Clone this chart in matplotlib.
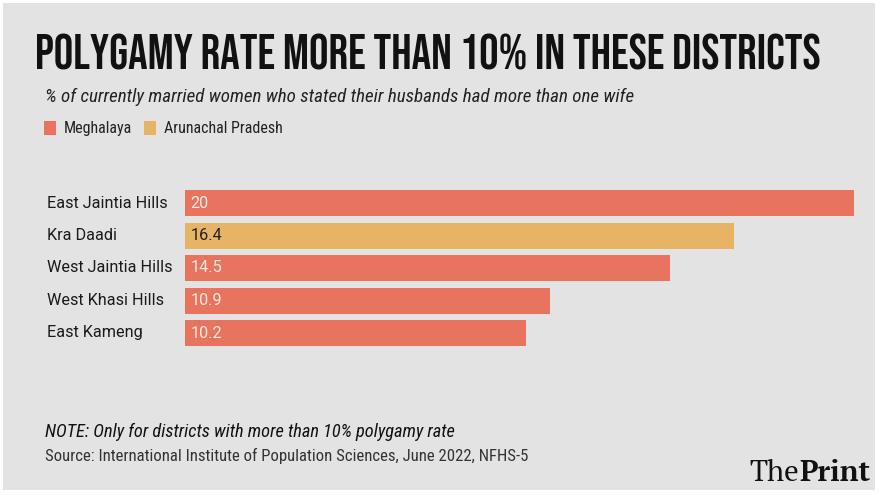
import matplotlib
matplotlib.use("Agg")
import matplotlib.pyplot as plt
from matplotlib import font_manager
from matplotlib.patches import Rectangle
from matplotlib.transforms import blended_transform_factory

districts = ["East Jaintia Hills", "Kra Daadi", "West Jaintia Hills", "West Khasi Hills", "East Kameng"]
rates = [20, 16.4, 14.5, 10.9, 10.2]
states = ["Meghalaya", "Arunachal Pradesh", "Meghalaya", "Meghalaya", "Meghalaya"]
state_colors = {"Meghalaya": "#e8735e", "Arunachal Pradesh": "#e6b464"}

W, H = 880, 495
installed = {f.name for f in font_manager.fontManager.ttflist}


def pick(*names):
    for n in names:
        if n in installed:
            return n
    return "DejaVu Sans"


head = pick("Bebas Neue", "Oswald", "Barlow Condensed")
cond = pick("Roboto Condensed", "Barlow Semi Condensed", "Roboto")
body = pick("Roboto", "DejaVu Sans")
serif = pick("PT Serif", "Noto Serif", "Liberation Serif", "DejaVu Serif")

fig = plt.figure(figsize=(W / 100, H / 100), dpi=100, facecolor="white")
fig.patches.append(Rectangle((3 / W, 5 / H), 872 / W, 487 / H, transform=fig.transFigure,
                             facecolor="#e3e3e3", edgecolor="none", zorder=-10))


def px(x, y):
    return x / W, 1 - y / H


def fit(t, width):
    # scale font so the text spans the width seen in the reference
    fig.canvas.draw()
    t.set_fontsize(t.get_fontsize() * width / t.get_window_extent().width)
    return t


fit(fig.text(*px(35, 70), "POLYGAMY RATE MORE THAN 10% IN THESE DISTRICTS",
             family=head, fontsize=32, color="#111111", va="baseline"), 787)

fit(fig.text(*px(45, 102), "% of currently married women who stated their husbands had more than one wife",
             family=cond, style="italic", fontsize=11, color="#222222", va="baseline"), 587)

# legend
lx = 44
for name in ["Meghalaya", "Arunachal Pradesh"]:
    fig.patches.append(Rectangle(px(lx, 135), 12 / W, 14 / H, transform=fig.transFigure,
                                 facecolor=state_colors[name], edgecolor="none"))
    t = fig.text(*px(lx + 20, 133), name, family=cond, fontsize=11.5, color="#222222", va="baseline")
    fig.canvas.draw()
    lx = t.get_window_extent().x1 + 12

# bars
ax = fig.add_axes([185 / W, 1 - 349.25 / H, 669 / W, 162.5 / H])
ax.set_facecolor("none")
ypos = list(range(len(districts)))
ax.barh(ypos, rates, height=0.8, color=[state_colors[s] for s in states])
ax.set_xlim(0, 20)
ax.set_ylim(4.5, -0.5)
ax.axis("off")

lab_tr = blended_transform_factory(fig.transFigure, ax.transData)
for y, d, r, s in zip(ypos, districts, rates, states):
    ax.text(47 / W, y, d, transform=lab_tr, family=body, fontsize=11.7, color="#1a1a1a", va="center")
    ax.text(0.17, y, f"{r:g}", family=body, fontsize=11.7, va="center",
            color="#222222" if s == "Arunachal Pradesh" else "#fbe9e4")

fit(fig.text(*px(45, 437), "NOTE: Only for districts with more than 10% polygamy rate",
             family=cond, style="italic", fontsize=11, color="#111111", va="baseline"), 410)
fit(fig.text(*px(45, 461), "Source: International Institute of Population Sciences, June 2022, NFHS-5",
             family=cond, fontsize=10, color="#333333", va="baseline"), 482)

logo = fig.text(*px(870, 481), "Print", family=serif, fontweight="bold",
                fontsize=21, color="#111111", ha="right", va="baseline")
fig.canvas.draw()
x0 = logo.get_window_extent().x0
fig.text(x0 / W, 1 - 481 / H, "The", family=serif, fontsize=21,
         color="#111111", ha="right", va="baseline")

fig.savefig("out.png", dpi=100, facecolor=fig.get_facecolor())
